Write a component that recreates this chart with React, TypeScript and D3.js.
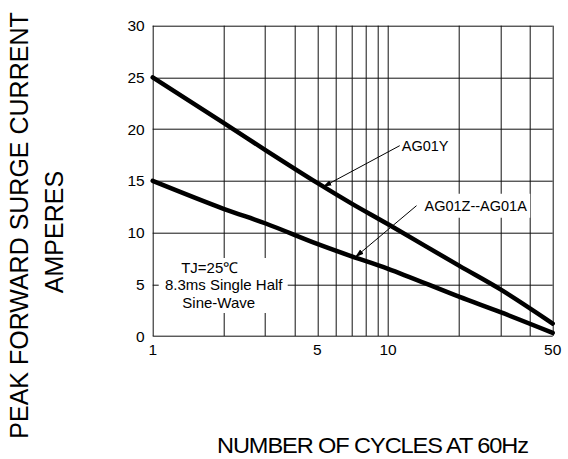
import React, { useEffect, useRef } from 'react'
import * as d3 from 'd3'

// number of cycles at 60Hz vs peak surge current (A)
const CYCLES = [1, 2, 3, 5, 7, 10, 20, 30, 50]
const AG01Y = [25, 20.6, 18.0, 14.8, 12.8, 10.8, 6.8, 4.5, 1.2]
const AG01Z_A = [15, 12.3, 10.9, 8.9, 7.7, 6.5, 3.8, 2.3, 0.3]

const X_TICKS = [1, 5, 10, 50]
const X_GRID = [2, 3, 4, 5, 6, 7, 8, 9, 10, 20, 30, 40, 50]
const Y_TICKS = [0, 5, 10, 15, 20, 25, 30]

// arrow callouts, in data coordinates (cycles, amperes)
const CALLOUTS = [
  { text: 'AG01Y', from: [11.2, 18.4], to: [5.27, 14.4], gap: 2 },
  { text: 'AG01Z--AG01A', from: [13.2, 12.6], to: [7.23, 7.6], gap: 8 },
]

const NOTE = ['TJ=25\u2103', '8.3ms Single Half', 'Sine-Wave']

const FONT = "'Liberation Sans', Arial, Helvetica, sans-serif"

function SurgeChart() {
  const svgRef = useRef<SVGSVGElement>(null)

  useEffect(() => {
    if (!svgRef.current) return
    const width = 568
    const height = 459
    const margin = { top: 25.7, right: 15.3, bottom: 123, left: 152.7 }
    const w = width - margin.left - margin.right
    const h = height - margin.top - margin.bottom

    const svg = d3.select(svgRef.current)
    svg.selectAll('*').remove()

    svg
      .append('defs')
      .append('marker')
      .attr('id', 'arrowhead')
      .attr('viewBox', '0 0 10 10')
      .attr('refX', 10)
      .attr('refY', 5)
      .attr('markerWidth', 9)
      .attr('markerHeight', 9)
      .attr('markerUnits', 'userSpaceOnUse')
      .attr('orient', 'auto')
      .append('path')
      .attr('d', 'M0,2L10,5L0,8Z')
      .attr('fill', '#000')

    const g = svg.append('g').attr('transform', `translate(${margin.left},${margin.top})`)

    const x = d3.scaleLog().domain([1, 50]).range([0, w])
    const y = d3.scaleLinear().domain([0, 30]).range([h, 0])

    // grid
    g.append('g')
      .selectAll('line')
      .data(X_GRID)
      .enter()
      .append('line')
      .attr('x1', (d) => Math.round(x(d)) + 0.5)
      .attr('x2', (d) => Math.round(x(d)) + 0.5)
      .attr('y1', 0)
      .attr('y2', h)
      .attr('stroke', '#111')
      .attr('stroke-width', 1)

    g.append('g')
      .selectAll('line')
      .data(Y_TICKS.filter((d) => d > 0))
      .enter()
      .append('line')
      .attr('x1', 0)
      .attr('x2', w)
      .attr('y1', (d) => Math.round(y(d)) + 0.5)
      .attr('y2', (d) => Math.round(y(d)) + 0.5)
      .attr('stroke', '#111')
      .attr('stroke-width', 1)

    // white box behind the test-condition note
    g.append('rect')
      .attr('x', 6)
      .attr('y', y(0) - 78)
      .attr('width', 129)
      .attr('height', 55)
      .attr('fill', '#fff')

    // axes frame (left + bottom)
    g.append('line')
      .attr('x1', 0.5)
      .attr('x2', 0.5)
      .attr('y1', 0)
      .attr('y2', h)
      .attr('stroke', '#111')
    g.append('line')
      .attr('x1', 0)
      .attr('x2', w)
      .attr('y1', Math.round(h) + 0.5)
      .attr('y2', Math.round(h) + 0.5)
      .attr('stroke', '#111')

    // callout labels with white backing
    const labels = g
      .selectAll<SVGTextElement, (typeof CALLOUTS)[number]>('text.callout')
      .data(CALLOUTS)
      .enter()
      .append('text')
      .attr('class', 'callout')
      .attr('x', (d) => x(d.from[0]) + d.gap)
      .attr('y', (d) => y(d.from[1]))
      .attr('dy', '0.35em')
      .attr('font-family', FONT)
      .attr('font-size', 14.5)
      .attr('fill', '#000')
      .text((d) => d.text)

    labels.each(function () {
      const b = (this as SVGTextElement).getBBox()
      d3.select(this.parentNode as SVGGElement)
        .insert('rect', 'text.callout')
        .attr('x', b.x - 3)
        .attr('y', b.y - 4)
        .attr('width', b.width + 6)
        .attr('height', b.height + 8)
        .attr('fill', '#fff')
    })

    // curves
    const line = d3
      .line<number>()
      .x((_, i) => x(CYCLES[i]))
      .y((d) => y(d))
      .curve(d3.curveCatmullRom.alpha(0.5))

    ;[AG01Y, AG01Z_A].forEach((series) => {
      g.append('path')
        .datum(series)
        .attr('fill', 'none')
        .attr('stroke', '#000')
        .attr('stroke-width', 4.5)
        .attr('stroke-linecap', 'round')
        .attr('d', line)
    })

    // arrows
    g.selectAll('line.arrow')
      .data(CALLOUTS)
      .enter()
      .append('line')
      .attr('class', 'arrow')
      .attr('x1', (d) => x(d.from[0]))
      .attr('y1', (d) => y(d.from[1]))
      .attr('x2', (d) => x(d.to[0]))
      .attr('y2', (d) => y(d.to[1]))
      .attr('stroke', '#000')
      .attr('stroke-width', 1)
      .attr('marker-end', 'url(#arrowhead)')

    // note text
    g.append('g')
      .selectAll('text')
      .data(NOTE)
      .enter()
      .append('text')
      .attr('x', (_, i) => (i === 0 ? 57 : i === 1 ? 71 : 66))
      .attr('y', (_, i) => y(0) - 63 + i * 17.5)
      .attr('text-anchor', 'middle')
      .attr('font-family', FONT)
      .attr('font-size', 15)
      .attr('fill', '#000')
      .text((d) => d)

    // tick labels
    g.append('g')
      .selectAll('text')
      .data(Y_TICKS)
      .enter()
      .append('text')
      .attr('x', -8)
      .attr('y', (d) => y(d))
      .attr('dy', '0.36em')
      .attr('text-anchor', 'end')
      .attr('font-family', FONT)
      .attr('font-size', 15.5)
      .attr('fill', '#000')
      .text((d) => d)

    g.append('g')
      .selectAll('text')
      .data(X_TICKS)
      .enter()
      .append('text')
      .attr('x', (d) => x(d))
      .attr('y', h + 19)
      .attr('text-anchor', 'middle')
      .attr('font-family', FONT)
      .attr('font-size', 15.5)
      .attr('fill', '#000')
      .text((d) => d)

    // axis titles
    svg
      .append('text')
      .attr('transform', `translate(28,225.5) rotate(-90)`)
      .attr('text-anchor', 'middle')
      .attr('font-family', FONT)
      .attr('font-size', 25)
      .attr('fill', '#000')
      .text('PEAK FORWARD SURGE CURRENT')

    svg
      .append('text')
      .attr('transform', `translate(63,232) rotate(-90)`)
      .attr('text-anchor', 'middle')
      .attr('font-family', FONT)
      .attr('font-size', 25)
      .attr('fill', '#000')
      .text('AMPERES')

    svg
      .append('text')
      .attr('x', 217)
      .attr('y', 453)
      .attr('textLength', 311)
      .attr('lengthAdjust', 'spacingAndGlyphs')
      .attr('font-family', FONT)
      .attr('font-size', 22)
      .attr('letter-spacing', -1)
      .attr('fill', '#000')
      .text('NUMBER OF CYCLES AT 60Hz')
  }, [])

  return (
    <svg
      ref={svgRef}
      width={568}
      height={459}
      style={{ position: 'absolute', left: 0, top: 0, background: '#fff' }}
    />
  )
}

export default function App() {
  return <SurgeChart />
}
